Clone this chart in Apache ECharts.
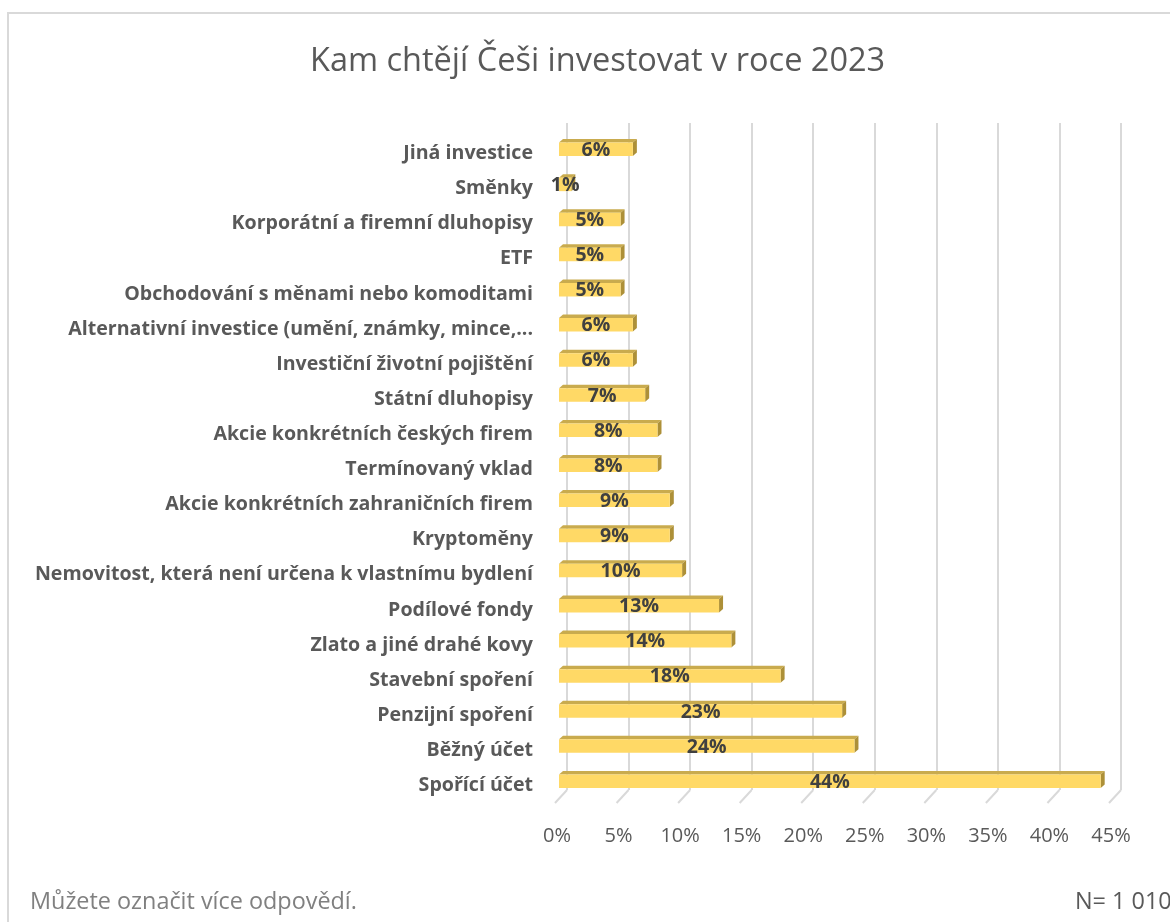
<!DOCTYPE html>
<html>
<head>
<meta charset="utf-8">
<script src="https://cdn.jsdelivr.net/npm/echarts@6/dist/echarts.min.js"></script>
<style>
  html, body { margin: 0; padding: 0; background: #ffffff; }
  #chart { width: 1170px; height: 922px; }
</style>
</head>
<body>
<div id="chart"></div>
<script>
// Investment categories, listed from the top row to the bottom row
const categories = [
  'Jiná investice',
  'Směnky',
  'Korporátní a firemní dluhopisy',
  'ETF',
  'Obchodování s měnami nebo komoditami',
  'Alternativní investice (umění, známky, mince,...',
  'Investiční životní pojištění',
  'Státní dluhopisy',
  'Akcie konkrétních českých firem',
  'Termínovaný vklad',
  'Akcie konkrétních zahraničních firem',
  'Kryptoměny',
  'Nemovitost, která není určena k vlastnímu bydlení',
  'Podílové fondy',
  'Zlato a jiné drahé kovy',
  'Stavební spoření',
  'Penzijní spoření',
  'Běžný účet',
  'Spořící účet'
];

// Share of respondents (%) per category
const shares = [6, 1, 5, 5, 5, 6, 6, 7, 8, 8, 9, 9, 10, 13, 14, 18, 23, 24, 44];

// Value axis ticks (%)
const axisTicks = [0, 5, 10, 15, 20, 25, 30, 35, 40, 45];

const titleText = 'Kam chtějí Češi investovat v roce 2023';
const noteText = 'Můžete označit více odpovědí.';
const sampleText = 'N= 1 010';

const chart = echarts.init(document.getElementById('chart'), null, { renderer: 'canvas' });

const FRONT = '#FFD966';
const TOP = '#C9AB4E';
const SIDE = '#AD9038';
const GRID = '#D9D9D9';

// 3D-looking bar: front face shifted toward the viewer, top and side faces receding
function renderBar(params, api) {
  const idx = api.value(0);
  const val = api.value(1);
  const start = api.coord([0, idx]);
  const end = api.coord([val, idx]);
  const c = start[1];
  const dx = 4, dy = 3.5, shift = -8;
  const x0 = start[0] + shift;
  const x1 = end[0] + shift;
  const y0 = c + 2;
  const y1 = c + 15.5;
  return {
    type: 'group',
    children: [
      {
        type: 'polygon',
        shape: { points: [[x0, y0], [x1, y0], [x1 + dx, y0 - dy], [x0 + dx, y0 - dy]] },
        style: { fill: TOP }
      },
      {
        type: 'polygon',
        shape: { points: [[x1, y0], [x1 + dx, y0 - dy], [x1 + dx, y1 - dy], [x1, y1]] },
        style: { fill: SIDE }
      },
      {
        type: 'rect',
        shape: { x: x0, y: y0, width: x1 - x0, height: y1 - y0 },
        style: { fill: FRONT }
      },
      {
        type: 'text',
        z2: 10,
        style: {
          text: val + '%',
          x: (x0 + x1) / 2,
          y: (y0 + y1) / 2 + 1,
          align: 'center',
          verticalAlign: 'middle',
          fill: '#404040',
          font: 'bold 19.5px "Open Sans", sans-serif'
        }
      }
    ]
  };
}

// Floor segments slanting from the wall gridlines toward the viewer
function renderFloor(params, api) {
  const v = api.value(0);
  const cs = params.coordSys;
  const bottom = cs.y + cs.height;
  const x = api.coord([v, 0])[0];
  return {
    type: 'line',
    shape: { x1: x, y1: bottom, x2: x - 12, y2: bottom + 13 },
    style: { stroke: GRID, lineWidth: 2 }
  };
}

chart.setOption({
  animation: false,
  backgroundColor: '#ffffff',
  title: {
    text: titleText,
    left: 305,
    top: 40,
    textStyle: {
      fontFamily: '"Open Sans", sans-serif',
      fontSize: 32.5,
      fontWeight: 'normal',
      color: '#595959'
    }
  },
  graphic: [
    {
      type: 'rect',
      shape: { x: 8, y: 13, width: 1200, height: 960 },
      style: { fill: 'none', stroke: GRID, lineWidth: 2 },
      silent: true
    },
    {
      type: 'text',
      left: 30,
      top: 891,
      style: {
        text: noteText,
        fill: '#808080',
        font: '23.4px "Open Sans", sans-serif'
      }
    },
    {
      type: 'text',
      left: 1075,
      top: 891,
      style: {
        text: sampleText,
        fill: '#595959',
        font: '23.4px "Open Sans", sans-serif'
      }
    }
  ],
  grid: {
    left: 567,
    right: 49,
    top: 123,
    bottom: 132,
    containLabel: false
  },
  xAxis: {
    type: 'value',
    min: axisTicks[0],
    max: axisTicks[axisTicks.length - 1],
    interval: 5,
    axisLine: { show: false },
    axisTick: { show: false },
    splitLine: { show: true, lineStyle: { color: GRID, width: 2 } },
    axisLabel: {
      formatter: '{value}%',
      color: '#595959',
      fontFamily: '"Open Sans", sans-serif',
      fontSize: 20,
      margin: 36,
      padding: [0, 20, 0, 0]
    }
  },
  yAxis: {
    type: 'category',
    data: categories,
    inverse: true,
    axisLine: { show: false },
    axisTick: { show: false },
    splitLine: { show: false },
    axisLabel: {
      color: '#595959',
      fontFamily: '"Open Sans", sans-serif',
      fontWeight: 'bold',
      fontSize: 19.6,
      margin: 34,
      verticalAlign: 'top',
      lineHeight: 26
    }
  },
  series: [
    {
      type: 'custom',
      renderItem: renderFloor,
      data: axisTicks.map(v => [v]),
      encode: { x: 0 },
      silent: true,
      z: 1
    },
    {
      type: 'custom',
      renderItem: renderBar,
      data: shares.map((v, i) => [i, v]),
      encode: { y: 0, x: 1 },
      z: 2
    }
  ]
});
</script>
</body>
</html>
